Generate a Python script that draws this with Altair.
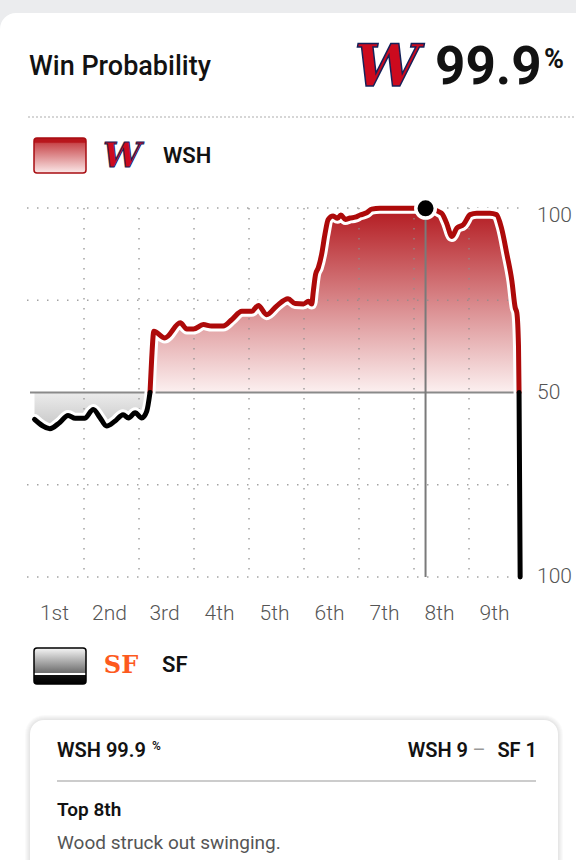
import altair as alt
import pandas as pd

# ---------------- data ----------------
INNING_LABELS = ["1st", "2nd", "3rd", "4th", "5th", "6th", "7th", "8th", "9th"]
INNING_MID = [0.5, 1.5, 2.5, 3.5, 4.5, 5.5, 6.5, 7.5, 8.5]
GRID_T = [1, 2, 3, 4, 5, 6, 7, 8]
GRID_WP = [0, 25, 75, 100]
YLAB_TOP = [100]
YLAB_TOP_TEXT = ["100"]
YLAB_REST = [50, 0]
YLAB_REST_TEXT = ["50", "100"]

# game progress (innings) and Washington win probability (%)
T = [0.10, 0.38, 0.56, 0.71, 0.84, 1.01, 1.17, 1.29, 1.41, 1.56, 1.71, 1.81,
     1.93, 2.05, 2.14, 2.20, 2.23, 2.27, 2.47, 2.75, 2.87, 2.99, 3.17, 3.32,
     3.53, 3.69, 3.87, 4.05, 4.17, 4.32, 4.50, 4.71, 4.84, 4.99, 5.08, 5.14,
     5.17, 5.21, 5.26, 5.32, 5.38, 5.44, 5.53, 5.61, 5.67, 5.75, 5.84, 5.93,
     6.02, 6.14, 6.23, 6.38, 6.75, 6.93, 7.21, 7.50, 7.59, 7.69, 7.78, 7.90,
     8.02, 8.14, 8.38, 8.50, 8.59, 8.69, 8.78, 8.84, 8.87, 8.90, 8.91, 8.93]
WP = [42.7, 40.2, 41.9, 43.8, 43.0, 43.0, 45.4, 43.2, 40.9, 42.2, 44.0, 43.1,
      44.5, 43.1, 44.9, 50.0, 59.0, 66.6, 64.8, 68.9, 67.2, 67.2, 68.4, 68.0,
      68.0, 69.8, 72.0, 72.0, 73.6, 71.1, 73.4, 75.4, 74.1, 74.0, 74.7, 74.0,
      77.5, 82.0, 83.8, 87.4, 92.8, 96.9, 97.8, 97.2, 98.1, 96.9, 97.3, 97.5,
      98.1, 98.7, 99.7, 99.9, 99.9, 99.9, 99.9, 98.6, 96.0, 92.3, 94.6, 95.5,
      98.2, 98.6, 98.6, 98.2, 94.6, 87.4, 80.2, 73.0, 71.6, 62.5, 50.0, 0.0]
assert len(T) == len(WP)

MARKER_T = [7.21]
MARKER_WP = [99.9]

TITLE = "Win Probability"
HEADLINE_VALUE = "99.9"
HOME = "WSH"
AWAY = "SF"
CARD_PROB = "WSH 99.9"
SCORE_HOME = "WSH 9"
SCORE_AWAY = "SF 1"
PLAY_INNING = "Top 8th"
PLAY_TEXT = "Wood struck out swinging."

# ---------------- layout constants ----------------
OX, OY = 29, 208          # plot origin in page pixels
W, H = 495, 369           # plot size
FONT = "Roboto"
RED = "#ad0a0a"
DARK = "#121212"
GREY_TXT = "#555555"

# ---------------- build tables ----------------
pts = list(zip(T, WP))
segs, cur = [], [pts[0]]
for p in pts[1:]:
    cur.append(p)
    if p[1] == 50.0:
        segs.append(cur)
        cur = [p]
if len(cur) > 1:
    segs.append(cur)
rows = []
for i, s in enumerate(segs):
    side = "home" if max(v for _, v in s) > 50 else "away"
    for t, v in s:
        rows.append({"t": t, "wp": v, "seg": i, "side": side, "base": 50.0})
seg_df = pd.DataFrame(rows)
home_df = seg_df[seg_df.side == "home"]
away_df = seg_df[seg_df.side == "away"]
all_df = pd.DataFrame({"t": T, "wp": WP})

ONE = pd.DataFrame({"k": [0]})

XS = alt.Scale(domain=[0, 9], nice=False, zero=False)
YS = alt.Scale(domain=[0, 100], nice=False, zero=False)
X = alt.X("t:Q", scale=XS, axis=None)
Y = alt.Y("wp:Q", scale=YS, axis=None)


def grad(stops):
    return alt.LinearGradient(
        gradient="linear", x1=0, y1=0, x2=0, y2=1,
        stops=[alt.GradientStop(color=c, offset=o) for o, c in stops])


def txt(s, x, y, size, weight=400, color=DARK, align="left",
        baseline="alphabetic", font=FONT, style=None, stroke=None, sw=None):
    kw = dict(align=align, baseline=baseline, fontSize=size,
              fontWeight=weight, color=color, font=font)
    if style:
        kw["fontStyle"] = style
    if stroke:
        kw["stroke"] = stroke
        kw["strokeWidth"] = sw
    return alt.Chart(ONE).mark_text(**kw).encode(
        x=alt.value(x - OX), y=alt.value(y - OY), text=alt.value(s))


def box(x1, y1, x2, y2, fill, stroke=None, sw=0, r=0, opacity=1.0):
    kw = dict(fill=fill, cornerRadius=r, opacity=opacity)
    if stroke:
        kw.update(stroke=stroke, strokeWidth=sw)
    else:
        kw.update(strokeWidth=0)
    return alt.Chart(ONE).mark_rect(**kw).encode(
        x=alt.value(x1 - OX), x2=alt.value(x2 - OX),
        y=alt.value(y1 - OY), y2=alt.value(y2 - OY))


def hline(x1, x2, y, color, width, dash=None):
    kw = dict(color=color, strokeWidth=width)
    if dash:
        kw["strokeDash"] = dash
    return alt.Chart(ONE).mark_rule(**kw).encode(
        x=alt.value(x1 - OX), x2=alt.value(x2 - OX), y=alt.value(y - OY))


layers = []

# page card
layers.append(box(0, 13, 620, 900, "white", r=16))

# ---------------- header ----------------
layers.append(txt(TITLE, 29, 75, 27, weight=500))
layers.append(txt("W", 387, 69, 58, weight=700, color="#cc0a1e",
                  align="center", baseline="middle", font="DejaVu Serif",
                  style="italic", stroke="#14225a", sw=1.5))
layers.append(txt(HEADLINE_VALUE, 435, 84, 53, weight=700))
layers.append(txt("%", 544, 68, 27, weight=700))
layers.append(hline(28, 576, 117, "#c9c9c9", 1.5, dash=[2, 2]))

# legend WSH
layers.append(box(34, 138, 86, 173,
                  grad([(0, "#b8161c"), (0.12, "#b8161c"), (0.16, "#c94a4e"),
                        (1, "#fbe9e9")]),
                  stroke="#a80d12", sw=1.5, r=3))
layers.append(txt("W", 122, 157, 34, weight=700, color="#cc0a1e",
                  align="center", baseline="middle", font="DejaVu Serif",
                  style="italic", stroke="#14225a", sw=1))
layers.append(txt(HOME, 163, 163, 22, weight=600))

# legend SF
layers.append(box(34, 648, 86, 684,
                  grad([(0, "#f6f6f6"), (0.68, "#6e6e6e"), (0.70, "#ffffff"),
                        (0.74, "#ffffff"), (0.76, "#111111"), (1, "#000000")]),
                  stroke="#000000", sw=1.5, r=3))
layers.append(txt("SF", 121, 666, 24, weight=700, color="#fd5a1e",
                  align="center", baseline="middle", font="DejaVu Serif"))
layers.append(txt(AWAY, 162, 672, 22, weight=600))

# ---------------- plot ----------------
# red (home) area
layers.append(alt.Chart(home_df).mark_area(
    fill=grad([(0, "#b31a20"), (1, "#fcf0f0")]), interpolate="monotone"
).encode(x=X, y=Y, y2="base:Q", detail="seg:N"))
# grey (away) area
layers.append(alt.Chart(away_df).mark_area(
    fill=grad([(0, "#ececec"), (1, "#c6c6c6")]), interpolate="monotone"
).encode(x=X, y=Y, y2="base:Q", detail="seg:N"))

# dotted grid
layers.append(alt.Chart(pd.DataFrame({"wp": GRID_WP})).mark_rule(
    color="#8c8c8c", strokeWidth=1.5, strokeDash=[1.5, 8.5], opacity=0.8
).encode(y=Y, x=alt.value(-2), x2=alt.value(W)))
layers.append(alt.Chart(pd.DataFrame({"t": GRID_T})).mark_rule(
    color="#8c8c8c", strokeWidth=1.5, strokeDash=[1.5, 8.5], opacity=0.8
).encode(x=X, y=alt.value(0), y2=alt.value(H)))

# 50 line
layers.append(alt.Chart(pd.DataFrame({"wp": [50]})).mark_rule(
    color="#8a8a8a", strokeWidth=2
).encode(y=Y, x=alt.value(1), x2=alt.value(W - 2)))

# marker vertical line
layers.append(alt.Chart(pd.DataFrame({"t": MARKER_T, "wp": MARKER_WP, "z": [0]})).mark_rule(
    color="#7a7a7a", strokeWidth=2
).encode(x=X, y=Y, y2=alt.Y2("z:Q")))

# white halo + lines
layers.append(alt.Chart(all_df).mark_line(
    color="white", strokeWidth=11, interpolate="monotone",
    strokeCap="round", strokeJoin="round"
).encode(x=X, y=Y))
layers.append(alt.Chart(home_df).mark_line(
    color=RED, strokeWidth=5, interpolate="monotone",
    strokeCap="round", strokeJoin="round"
).encode(x=X, y=Y, detail="seg:N"))
layers.append(alt.Chart(away_df).mark_line(
    color="#000000", strokeWidth=5, interpolate="monotone",
    strokeCap="round", strokeJoin="round"
).encode(x=X, y=Y, detail="seg:N"))

# marker dot
layers.append(alt.Chart(pd.DataFrame({"t": MARKER_T, "wp": MARKER_WP})).mark_point(
    filled=True, fill="#000000", stroke="white", strokeWidth=3.5, size=380,
    shape="circle", opacity=1
).encode(x=X, y=Y))

# axis labels
layers.append(alt.Chart(pd.DataFrame({"t": INNING_MID, "lab": INNING_LABELS})).mark_text(
    fontSize=21, fontWeight=300, color=GREY_TXT, font=FONT, baseline="middle",
    align="center", dx=-2
).encode(x=X, y=alt.value(614 - OY), text="lab:N"))
layers.append(alt.Chart(pd.DataFrame({"wp": YLAB_TOP, "lab": YLAB_TOP_TEXT})).mark_text(
    fontSize=21, fontWeight=300, color=GREY_TXT, font=FONT, baseline="top",
    align="left", dy=-3
).encode(y=Y, x=alt.value(537 - OX), text="lab:N"))
layers.append(alt.Chart(pd.DataFrame({"wp": YLAB_REST, "lab": YLAB_REST_TEXT})).mark_text(
    fontSize=21, fontWeight=300, color=GREY_TXT, font=FONT, baseline="middle",
    align="left"
).encode(y=Y, x=alt.value(537 - OX), text="lab:N"))

# ---------------- bottom card ----------------
for i in range(1, 6):
    layers.append(box(30 - i, 720 - i, 558 + i, 905, "#000000", r=14 + i,
                      opacity=0.018))
layers.append(box(30, 720, 558, 905, "white", r=14))
layers.append(txt(CARD_PROB, 57, 757, 20, weight=600))
layers.append(txt("%", 152, 750, 12, weight=600))
layers.append(txt(SCORE_HOME, 468, 757, 20, weight=600, align="right"))
layers.append(txt("–", 479, 757, 20, weight=400, color="#999999", align="center"))
layers.append(txt(SCORE_AWAY, 537, 757, 20, weight=600, align="right"))
layers.append(hline(57, 536, 781, "#cccccc", 2))
layers.append(txt(PLAY_INNING, 57, 816, 19, weight=600))
layers.append(txt(PLAY_TEXT, 57, 849, 19, weight=400, color=GREY_TXT))

chart = alt.layer(*layers).properties(
    width=W, height=H,
    padding={"left": OX, "top": OY, "right": 576 - OX - W, "bottom": 860 - OY - H},
    autosize=alt.AutoSizeParams(type="none"),
    background="#ebecee",
).configure_view(stroke=None)

chart.save("out.html", embed_options={"renderer": "svg", "actions": False})
